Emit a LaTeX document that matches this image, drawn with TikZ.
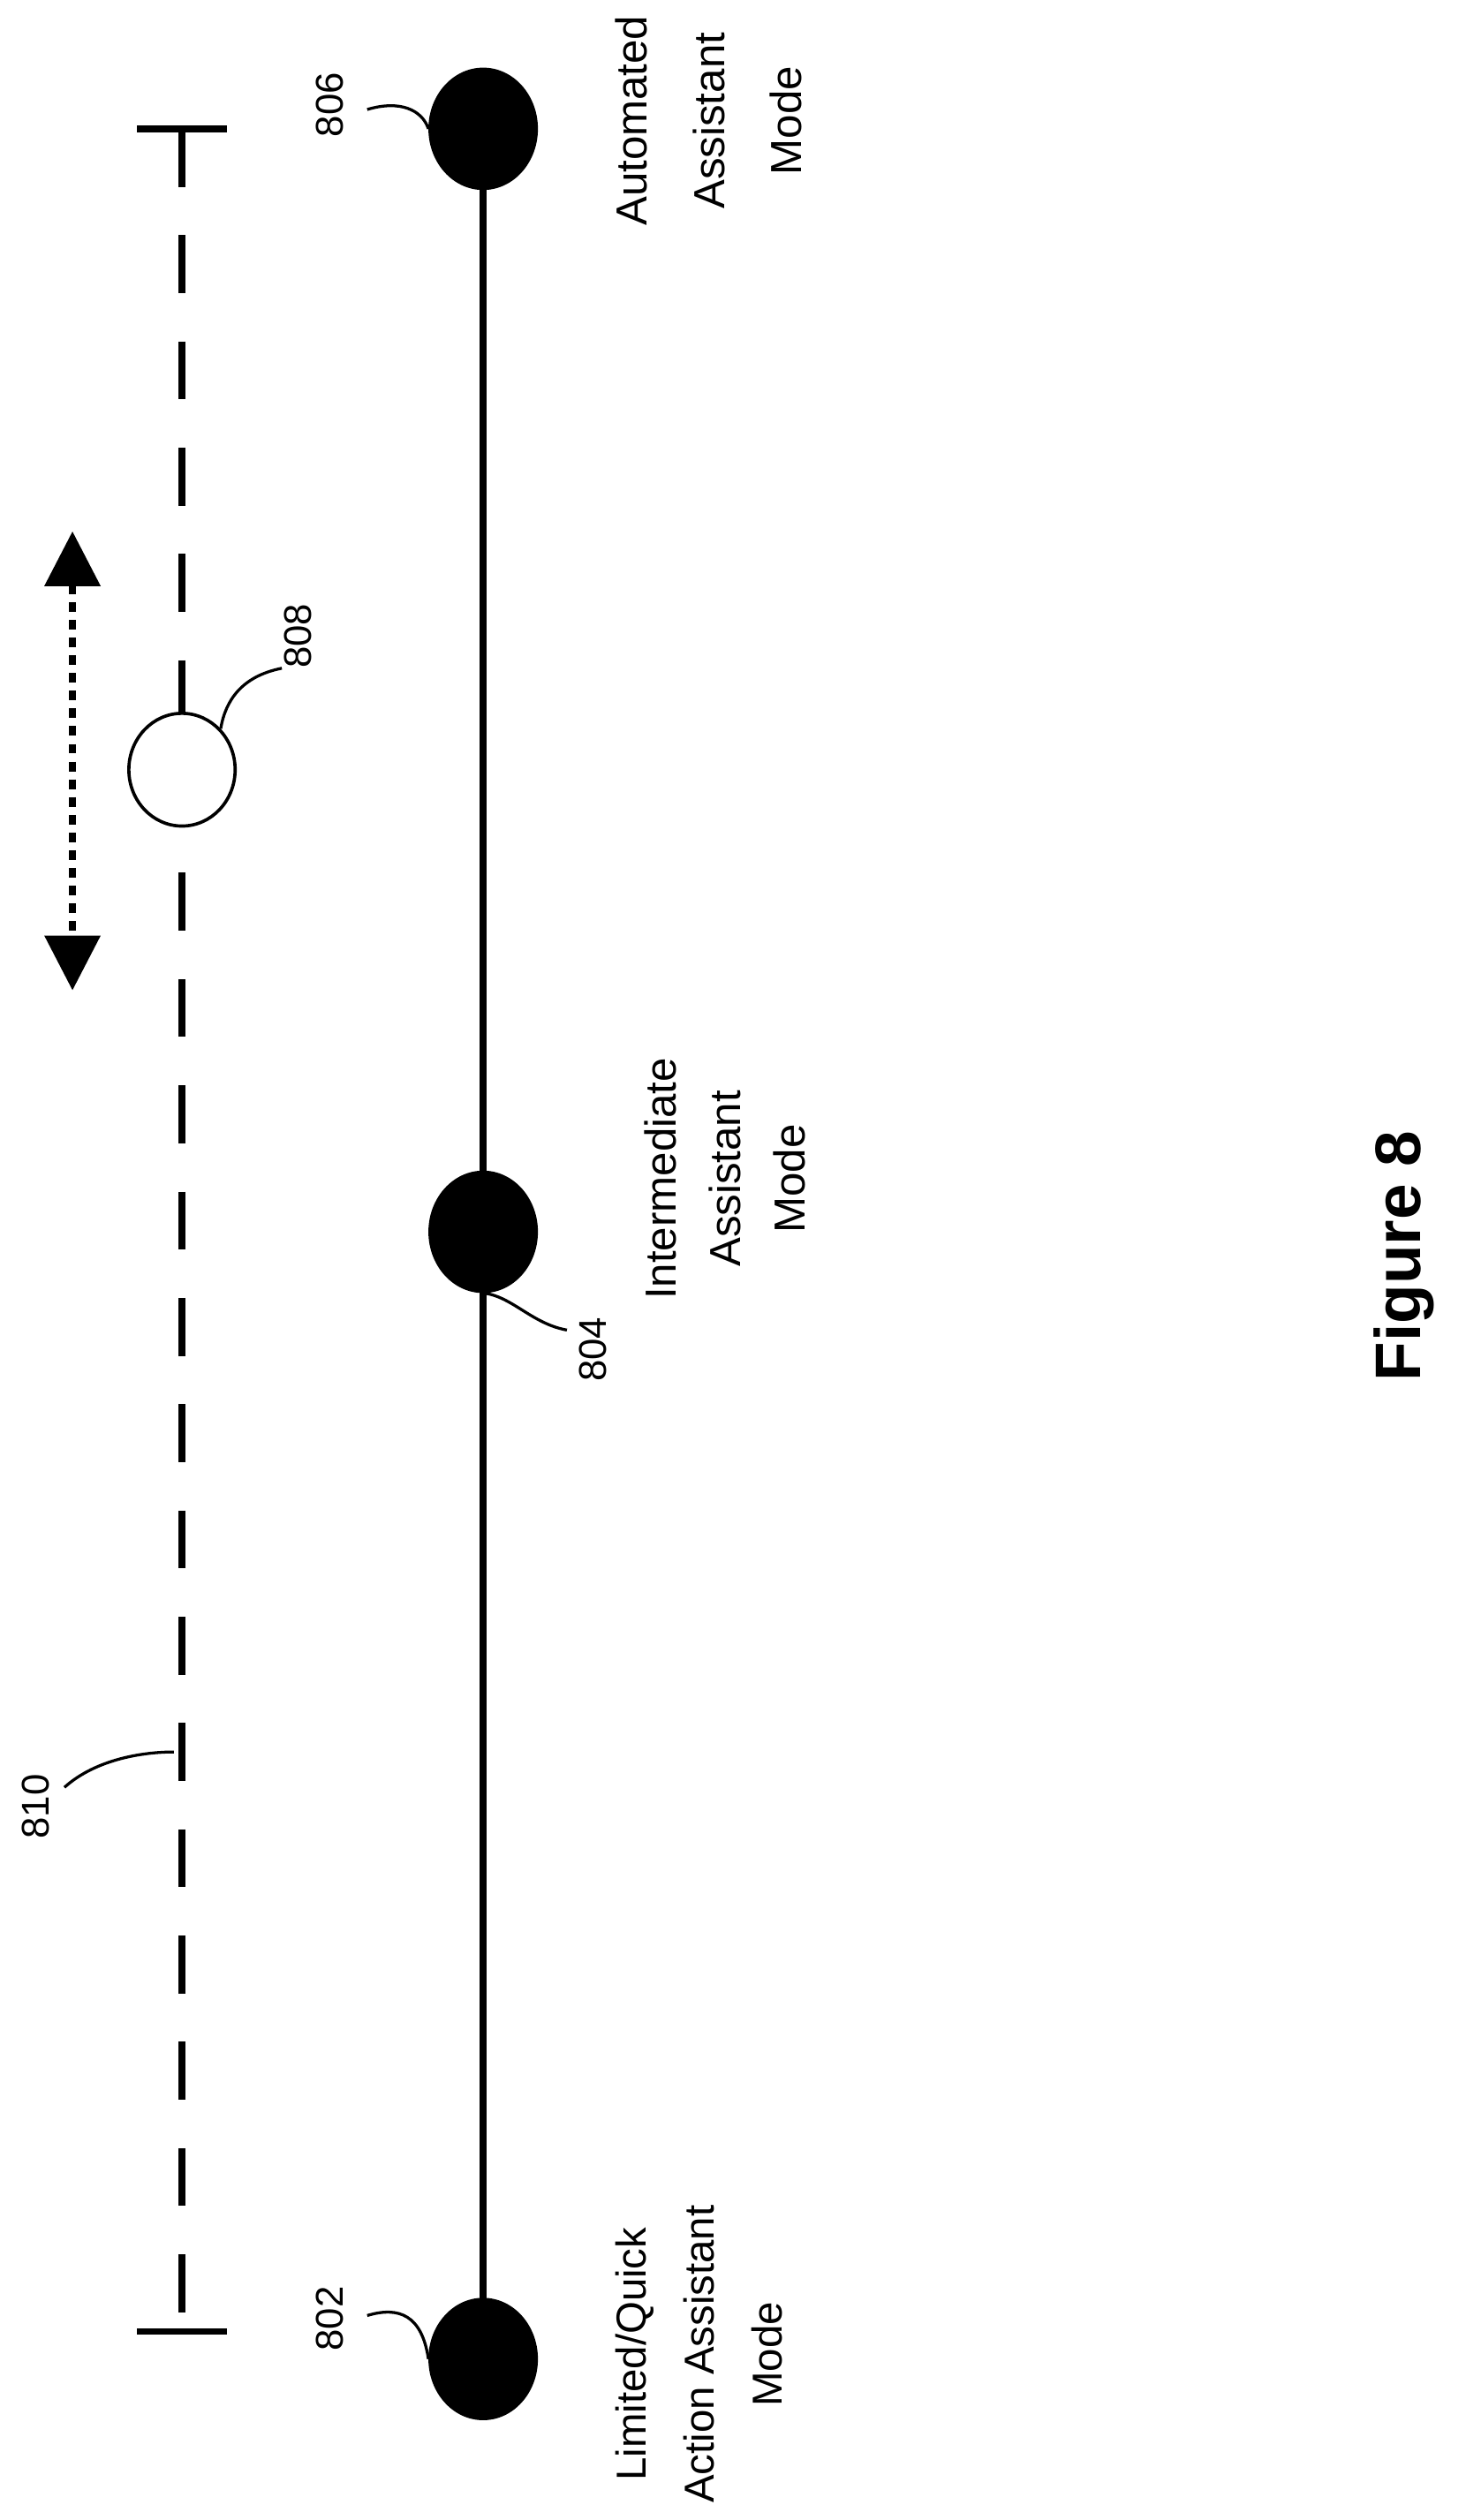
\documentclass[tikz,border=0pt]{standalone}
\usepackage{fontspec}
\setmainfont{Liberation Sans}
\usetikzlibrary{arrows.meta}
\tikzset{
  modedot/.style={draw,fill=black,ellipse,minimum width=66pt,minimum height=74pt,inner sep=0pt,line width=2pt},
  ref/.style={rotate=90,font=\fontsize{24}{26}\selectfont},
  modetext/.style={rotate=90,align=center,font=\fontsize{26}{42}\selectfont},
  leader/.style={line width=1.8pt}
}
\usetikzlibrary{shapes.geometric}
\begin{document}
\begin{tikzpicture}[x=1pt,y=-1pt]
        \useasboundingbox (0,0) rectangle (910,1565);
        % scale track
        \draw[line width=4pt] (300,80) -- (300,1465);
        \node[modedot] (m806) at (300,80) {};
        \node[modedot] (m804) at (300,765) {};
        \node[modedot] (m802) at (300,1465) {};

        % slider track
        \coordinate (top) at (113,80);
        \coordinate (bot) at (113,1448);
        \draw[line width=4pt, dash pattern=on 36pt off 30pt] (top) -- (bot);
        \draw[line width=4pt] (85,80) -- (141,80);
        \draw[line width=4pt] (85,1448) -- (141,1448);
        \node[draw,fill=white,ellipse,minimum width=66pt,minimum height=70pt,inner sep=0pt,line width=2pt] (s808) at (113,478) {};

        % move arrow
        \coordinate (aup) at (45,330);
        \coordinate (adn) at (45,615);
        \draw[line width=4pt, dash pattern=on 6pt off 5pt, {Triangle[length=34pt,width=34pt]}-{Triangle[length=34pt,width=34pt]}] (aup) -- (adn);

        % reference numerals
        \node[ref] (r806) at (205,65) {806};
        \draw[leader] (228,68) .. controls (248,62) and (262,68) .. (m806.west);
        \node[ref] (r804) at (368,838) {804};
        \draw[leader] (352,826) .. controls (330,822) and (318,805) .. (m804.south);
        \node[ref] (r802) at (205,1440) {802};
        \draw[leader] (228,1438) .. controls (248,1432) and (262,1438) .. (m802.west);
        \node[ref] (r808) at (185,395) {808};
        \draw[leader] (175,415) .. controls (150,420) and (140,435) .. (s808.north east);
        \node[ref] (r810) at (22,1122) {810};
        \draw[leader] (40,1110) .. controls (60,1092) and (90,1088) .. (108,1088);

        % mode labels
        \node[modetext,font=\fontsize{27}{48}\selectfont] (t806) at (440,75) {Automated\\Assistant\\Mode};
        \node[modetext,font=\fontsize{27}{40}\selectfont] (t804) at (450,732) {Intermediate\\Assistant\\Mode};
        \node[modetext] (t802) at (434,1462) {Limited/Quick\\Action Assistant\\Mode};

        \node[rotate=90,font=\bfseries\fontsize{40}{44}\selectfont] (fig) at (872,780) {Figure 8};
\end{tikzpicture}
\end{document}
